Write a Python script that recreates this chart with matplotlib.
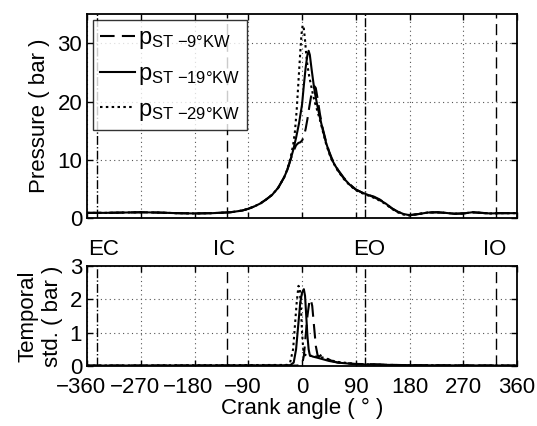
import matplotlib
matplotlib.use("Agg")
import matplotlib.pyplot as plt
import matplotlib.transforms as mtransforms

plt.rcParams['font.family'] = ['Liberation Sans', 'DejaVu Sans']
plt.rcParams['mathtext.fontset'] = 'custom'
plt.rcParams['mathtext.rm'] = 'Liberation Sans'
plt.rcParams['mathtext.it'] = 'Liberation Sans'
plt.rcParams['mathtext.default'] = 'rm'

# ---- data: pressure (bar) vs crank angle (deg) ----
ang_p19 = [-360, -330, -300, -270, -240, -210, -180, -150, -120, -100, -90, -80, -70, -60,
           -50, -40, -30, -25, -20, -15, -10, -5, 0, 3, 6, 9, 11, 13, 16, 19, 22, 25, 30,
           35, 40, 45, 50, 60, 70, 80, 90, 100, 110, 120, 130, 140, 150, 160, 170, 180,
           195, 210, 225, 240, 255, 270, 285, 300, 315, 330, 345, 360]
p19 = [0.9, 0.9, 0.95, 1.0, 0.95, 0.85, 0.8, 0.85, 1.0, 1.3, 1.6, 2.0, 2.5, 3.2,
       4.0, 5.2, 7.0, 8.2, 9.8, 11.6, 13.8, 16.3, 19.5, 22.8, 25.8, 28.0, 28.7, 28.0, 25.5, 23.2, 21.2, 19.6, 17.2,
       15.0, 13.0, 11.4, 10.0, 8.2, 6.8, 5.7, 4.9, 4.4, 4.0, 3.6, 3.1, 2.5, 1.7, 1.1, 0.7, 0.5,
       0.7, 0.95, 1.0, 0.9, 0.75, 0.8, 1.0, 0.9, 0.8, 0.85, 0.85, 0.85]

ang_p29 = [-360, -330, -300, -270, -240, -210, -180, -150, -120, -100, -90, -80, -70, -60,
           -50, -40, -30, -25, -20, -15, -12, -9, -6, -3, -1, 1, 3, 5, 7, 9, 12, 15, 18, 21,
           25, 30, 35, 40, 45, 50, 60, 70, 80, 90, 100, 110, 120, 130, 140, 150, 160, 170,
           180, 195, 210, 225, 240, 255, 270, 285, 300, 315, 330, 345, 360]
p29 = [0.9, 0.9, 0.95, 1.0, 0.95, 0.85, 0.8, 0.85, 1.0, 1.3, 1.6, 2.0, 2.5, 3.2,
       4.0, 5.2, 7.0, 8.3, 10.0, 12.5, 14.8, 18.5, 23.5, 28.5, 31.5, 33.1, 32.5, 30.5, 28.0, 26.2, 24.3, 22.8, 21.3, 20.0,
       18.6, 16.8, 14.8, 12.8, 11.2, 9.9, 8.1, 6.7, 5.6, 4.8, 4.3, 3.9, 3.5, 3.0, 2.4, 1.6, 1.0, 0.6,
       0.45, 0.7, 0.95, 1.0, 0.9, 0.75, 0.8, 1.0, 0.9, 0.8, 0.85, 0.85, 0.85]

ang_p9 = [-360, -330, -300, -270, -240, -210, -180, -150, -120, -100, -90, -80, -70, -60,
          -50, -40, -30, -25, -20, -15, -10, -6, -3, 0, 3, 6, 9, 12, 15, 18, 21, 23, 26,
          30, 35, 40, 45, 50, 60, 70, 80, 90, 100, 110, 120, 130, 140, 150, 160, 170, 180,
          195, 210, 225, 240, 255, 270, 285, 300, 315, 330, 345, 360]
p9 = [0.9, 0.9, 0.95, 1.0, 0.95, 0.85, 0.8, 0.85, 1.0, 1.3, 1.6, 2.0, 2.5, 3.2,
      4.0, 5.2, 7.0, 8.2, 9.8, 11.3, 12.5, 12.9, 13.0, 13.3, 14.0, 15.3, 17.0, 19.0, 20.8, 22.0, 22.6, 22.3, 20.5,
      17.8, 15.2, 13.2, 11.5, 10.2, 8.3, 6.9, 5.8, 4.9, 4.4, 4.0, 3.7, 3.2, 2.5, 1.7, 1.1, 0.7, 0.5,
      0.7, 0.95, 1.0, 0.9, 0.75, 0.8, 1.0, 0.9, 0.8, 0.85, 0.85, 0.85]

# ---- data: temporal standard deviation (bar) ----
ang_s9 = [-360, -10, -3, 0, 3, 6, 9, 12, 14.5, 17, 20, 23, 26, 29, 33, 37, 42, 50, 60, 90, 120, 150, 200, 360]
s9 = [0.01, 0.01, 0.02, 0.05, 0.3, 0.9, 1.5, 1.9, 2.0, 1.8, 1.2, 0.6, 0.32, 0.28, 0.35, 0.3, 0.22, 0.15, 0.1, 0.06, 0.05, 0.03, 0.02, 0.01]

ang_s19 = [-360, -20, -14, -10, -6, -3, 0, 3, 5, 7, 9, 11, 13, 18, 25, 35, 45, 60, 90, 150, 200, 360]
s19 = [0.01, 0.02, 0.1, 0.5, 1.3, 1.9, 2.2, 2.3, 2.1, 1.5, 0.9, 0.5, 0.32, 0.28, 0.25, 0.2, 0.15, 0.1, 0.05, 0.03, 0.02, 0.01]

ang_s29 = [-360, -25, -20, -15, -12, -9, -6, -4, -2, 0, 2, 4, 8, 15, 25, 35, 45, 60, 90, 120, 180, 360]
s29 = [0.01, 0.03, 0.1, 0.5, 1.2, 1.9, 2.4, 2.35, 1.8, 1.0, 0.5, 0.35, 0.3, 0.3, 0.28, 0.25, 0.18, 0.12, 0.06, 0.04, 0.02, 0.01]

labels = [r'$\mathrm{p}_{\text{ST −9°KW}}$',
          r'$\mathrm{p}_{\text{ST −19°KW}}$',
          r'$\mathrm{p}_{\text{ST −29°KW}}$']

# valve events
events = ['EC', 'IC', 'EO', 'IO']
event_angles = [-343, -125, 105, 325]
event_text_x = [-332, -130, 113, 322]
event_styles = ['-.', (0, (8, 4)), '-.', (0, (8, 4))]

xticks = [-360, -270, -180, -90, 0, 90, 180, 270, 360]

fig = plt.figure(figsize=(5.37, 4.26), dpi=100)
ax1 = fig.add_axes([0.162, 0.488, 0.801, 0.479])
ax2 = fig.add_axes([0.162, 0.141, 0.801, 0.235])

fs = 16
lw = 1.5
ax1.plot(ang_p9, p9, color='black', lw=lw, ls=(0, (7, 3.5)), label=labels[0], zorder=3)
ax1.plot(ang_p19, p19, color='black', lw=lw, ls='-', label=labels[1], zorder=3)
ax1.plot(ang_p29, p29, color='black', lw=lw, ls=(0, (1.2, 1.6)), label=labels[2], zorder=3)

ax2.plot(ang_s9, s9, color='black', lw=lw, ls=(0, (7, 3.5)), zorder=3)
ax2.plot(ang_s19, s19, color='black', lw=lw, ls='-', zorder=3)
ax2.plot(ang_s29, s29, color='black', lw=lw, ls=(0, (1.2, 1.6)), zorder=3)

for ax in (ax1, ax2):
    for a, st in zip(event_angles, event_styles):
        ax.axvline(a, color='black', lw=1.0, ls=st, zorder=2)
    ax.set_xlim(-360, 360)
    ax.set_xticks(xticks)
    ax.grid(True, ls=(0, (1, 3)), color='#555555', lw=0.8)
    ax.tick_params(direction='in', top=True, right=True, length=4, labelsize=fs, width=1)
    for s in ax.spines.values():
        s.set_linewidth(1.3)

ax1.set_ylim(0, 35)
ax1.set_yticks([0, 10, 20, 30])
ax1.tick_params(labelbottom=False)
ax1.set_ylabel('Pressure ( bar )', fontsize=fs, labelpad=5)

ax2.set_ylim(0, 3)
ax2.set_yticks([0, 1, 2, 3])
ax2.tick_params(axis='x', pad=8)
ax2.set_ylabel('Temporal\nstd. ( bar )', fontsize=fs, labelpad=5, linespacing=1.2)
ax2.set_xlabel('Crank angle ( ° )', fontsize=fs, labelpad=0)

for name, tx in zip(events, event_text_x):
    ax2.text(tx, 1.06, name, transform=ax2.get_xaxis_transform(), ha='center', va='bottom', fontsize=fs)

leg = ax1.legend(loc='upper left', fontsize=17, frameon=True, fancybox=False,
                 edgecolor='black', handlelength=1.5, handletextpad=0.1,
                 borderpad=0.3, labelspacing=0.5, borderaxespad=0.25)
leg.get_frame().set_linewidth(1.0)

# digits centred on the tick, minus sign hanging to the left
fig.canvas.draw()
shift = mtransforms.ScaledTranslation(-6 / 100, 0, fig.dpi_scale_trans)
for lab in ax2.get_xticklabels():
    if lab.get_text().startswith('\u2212') or lab.get_text().startswith('-'):
        lab.set_transform(lab.get_transform() + shift)

fig.savefig('out.png', dpi=100)
